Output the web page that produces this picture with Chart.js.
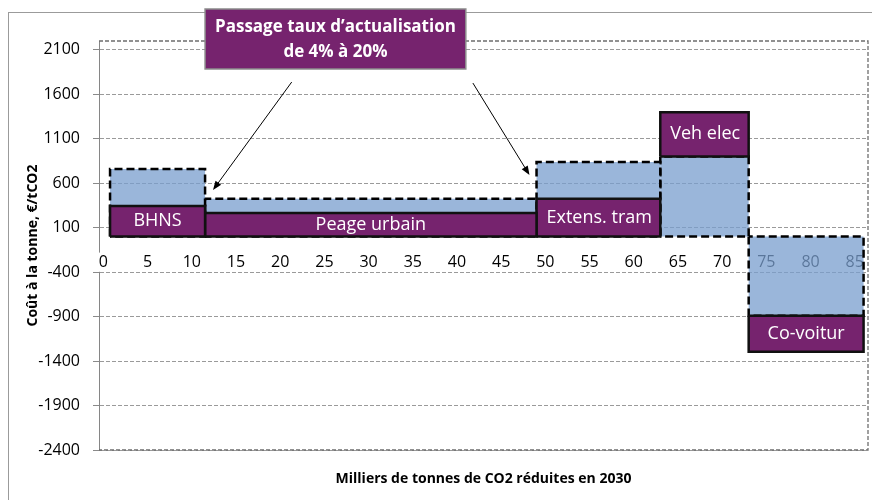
<!DOCTYPE html>
<html lang="fr">
<head>
    <meta charset="UTF-8">
    <title>Coût à la tonne de CO2 réduite</title>
    <script src="https://cdn.jsdelivr.net/npm/chart.js"></script>
    <style>
        body { margin: 0; background: #fff; }
        canvas { display: block; }
    </style>
</head>
<body>
    <canvas id="chart" width="872" height="500"></canvas>

    <script>
        const mesures = ['BHNS', 'Peage urbain', 'Extens. tram', 'Veh elec', 'Co-voitur'];
        // milliers de tonnes cumulées (début et fin de chaque mesure)
        const debut = [0.75, 11.5, 49, 63, 73];
        const fin = [11.5, 49, 63, 73, 86];
        // zone bleue en pointillés
        const cout20 = [760, 425, 840, 900, -890];
        // boîte violette
        const bas4 = [0, 0, 0, 900, -890];
        const haut4 = [345, 265, 425, 1400, -1295];

        const yTicks = [-2400, -1900, -1400, -900, -400, 100, 600, 1100, 1600, 2100];
        const xTicks = [0, 5, 10, 15, 20, 25, 30, 35, 40, 45, 50, 55, 60, 65, 70, 75, 80, 85];

        const encadre = {lignes: ['Passage taux d’actualisation', 'de 4% à 20%'], x0: 11.5, x1: 41, y0: 2560, y1: 1885};
        const fleches = [
            {de: [21.3, 1738], vers: [12.4, 524]},
            {de: [41.8, 1727], vers: [48.2, 693]}
        ];

        const violet = '#76236e';
        const bleu = 'rgba(120, 158, 205, 0.75)';

        Chart.defaults.font.family = "'Open Sans', sans-serif";
        Chart.defaults.color = '#000';

        function rectangle(x0, x1, y0, y1) {
            return [{x: x0, y: y0}, {x: x0, y: y1}, {x: x1, y: y1}, {x: x1, y: y0}, {x: x0, y: y0}];
        }

        const datasets = [];
        mesures.forEach((m, i) => {
            datasets.push({
                label: m + ' (20%)',
                data: rectangle(debut[i], fin[i], 0, cout20[i]),
                fill: 'shape',
                backgroundColor: bleu,
                borderColor: '#000',
                borderWidth: 2.5,
                borderDash: [8, 4],
                pointRadius: 0,
                order: 2
            });
            datasets.push({
                label: m + ' (4%)',
                data: rectangle(debut[i], fin[i], bas4[i], haut4[i]),
                fill: 'shape',
                backgroundColor: violet,
                borderColor: '#111',
                borderWidth: 2.5,
                pointRadius: 0,
                order: 1
            });
        });

        const habillage = {
            id: 'habillage',
            beforeDraw(chart) {
                const ctx = chart.ctx;
                ctx.save();
                ctx.fillStyle = '#fff';
                ctx.fillRect(0, 0, chart.width, chart.height);
                ctx.strokeStyle = '#9b9b9b';
                ctx.lineWidth = 1;
                ctx.strokeRect(8.5, 12.5, chart.width + 20, chart.height + 20);
                ctx.restore();
            },
            beforeDatasetsDraw(chart) {
                const {ctx, chartArea: a} = chart;
                ctx.save();
                ctx.strokeStyle = '#6e6e6e';
                ctx.lineWidth = 1.3;
                ctx.setLineDash([4, 2]);
                ctx.beginPath();
                ctx.moveTo(a.left, a.top);
                ctx.lineTo(a.right, a.top);
                ctx.lineTo(a.right, a.bottom);
                ctx.lineTo(a.left, a.bottom);
                ctx.stroke();
                ctx.restore();
            },
            afterDatasetsDraw(chart) {
                const {ctx, scales: {x, y}} = chart;
                ctx.save();
                ctx.font = '18px "Open Sans"';
                ctx.fillStyle = '#fff';
                ctx.textBaseline = 'middle';
                mesures.forEach((m, i) => {
                    const gauche = x.getPixelForValue(debut[i]);
                    const droite = x.getPixelForValue(fin[i]);
                    const haut = y.getPixelForValue(Math.max(bas4[i], haut4[i]));
                    const bas = y.getPixelForValue(Math.min(bas4[i], haut4[i]));
                    const largeur = ctx.measureText(m).width;
                    ctx.save();
                    ctx.beginPath();
                    ctx.rect(gauche, haut, droite - gauche, bas - haut);
                    ctx.clip();
                    if (largeur + 24 > droite - gauche) {
                        ctx.textAlign = 'left';
                        ctx.fillText(m, gauche + 10, (haut + bas) / 2);
                    } else {
                        ctx.textAlign = 'center';
                        ctx.fillText(m, (gauche + droite) / 2, (haut + bas) / 2);
                    }
                    ctx.restore();
                });
                ctx.restore();
            },
            afterDraw(chart) {
                const {ctx, scales: {x, y}} = chart;
                ctx.save();
                ctx.strokeStyle = '#000';
                ctx.fillStyle = '#000';
                ctx.lineWidth = 1;
                fleches.forEach(f => {
                    const x0 = x.getPixelForValue(f.de[0]), y0 = y.getPixelForValue(f.de[1]);
                    const x1 = x.getPixelForValue(f.vers[0]), y1 = y.getPixelForValue(f.vers[1]);
                    const a = Math.atan2(y1 - y0, x1 - x0);
                    const c = Math.cos(a), s = Math.sin(a);
                    ctx.beginPath();
                    ctx.moveTo(x0, y0);
                    ctx.lineTo(x1 - 6 * c, y1 - 6 * s);
                    ctx.stroke();
                    ctx.beginPath();
                    ctx.moveTo(x1, y1);
                    ctx.lineTo(x1 - 9 * c + 3.5 * s, y1 - 9 * s - 3.5 * c);
                    ctx.lineTo(x1 - 9 * c - 3.5 * s, y1 - 9 * s + 3.5 * c);
                    ctx.closePath();
                    ctx.fill();
                });

                const gx = x.getPixelForValue(encadre.x0), dx = x.getPixelForValue(encadre.x1);
                const hy = y.getPixelForValue(encadre.y0), by = y.getPixelForValue(encadre.y1);
                ctx.fillStyle = violet;
                ctx.fillRect(gx, hy, dx - gx, by - hy);
                ctx.strokeStyle = '#8c8c8c';
                ctx.lineWidth = 1.5;
                ctx.strokeRect(gx, hy, dx - gx, by - hy);
                ctx.fillStyle = '#fff';
                ctx.font = 'bold 17px "Open Sans"';
                ctx.textAlign = 'center';
                ctx.textBaseline = 'middle';
                const milieu = (hy + by) / 2;
                ctx.fillText(encadre.lignes[0], (gx + dx) / 2, milieu - 12);
                ctx.fillText(encadre.lignes[1], (gx + dx) / 2, milieu + 13);
                ctx.restore();
            }
        };

        new Chart(document.getElementById('chart'), {
            type: 'line',
            data: {datasets: datasets},
            options: {
                responsive: false,
                animation: false,
                layout: {padding: {left: 20, top: 41, right: 4, bottom: 0}},
                elements: {line: {tension: 0}},
                plugins: {
                    legend: {display: false},
                    tooltip: {enabled: false}
                },
                scales: {
                    x: {
                        type: 'linear',
                        position: {y: 0},
                        min: -0.5,
                        max: 86.5,
                        afterBuildTicks: s => { s.ticks = xTicks.map(v => ({value: v})); },
                        grid: {display: false, drawTicks: true, tickLength: 16},
                        border: {display: false},
                        ticks: {
                            font: {size: 16},
                            padding: 0,
                            maxRotation: 0,
                            autoSkip: false,
                            showLabelBackdrop: true,
                            backdropColor: '#fff',
                            backdropPadding: {top: 0, bottom: 0, left: 2, right: 2}
                        }
                    },
                    x2: {
                        type: 'linear',
                        position: 'bottom',
                        grid: {display: false, drawTicks: false},
                        border: {display: false},
                        ticks: {display: false},
                        afterFit: s => { s.height = 50; },
                        title: {
                            display: true,
                            text: 'Milliers de tonnes de CO2 réduites en 2030',
                            font: {size: 14, weight: 'bold'},
                            padding: {top: 0, bottom: 13}
                        }
                    },
                    y: {
                        min: -2400,
                        max: 2200,
                        afterBuildTicks: s => { s.ticks = yTicks.map(v => ({value: v})); },
                        afterFit: s => { s.width = 79; },
                        ticks: {font: {size: 16}, padding: 13, callback: v => String(v)},
                        grid: {color: '#9a9a9a', tickLength: 6, tickColor: '#8a8a8a'},
                        border: {color: '#868686', dash: [4, 2], z: -1},
                        title: {
                            display: true,
                            text: 'Coût à la tonne, €/tCO2',
                            font: {size: 14, weight: 'bold'},
                            padding: {top: 5, bottom: 0}
                        }
                    }
                }
            },
            plugins: [habillage]
        });
    </script>
</body>
</html>
